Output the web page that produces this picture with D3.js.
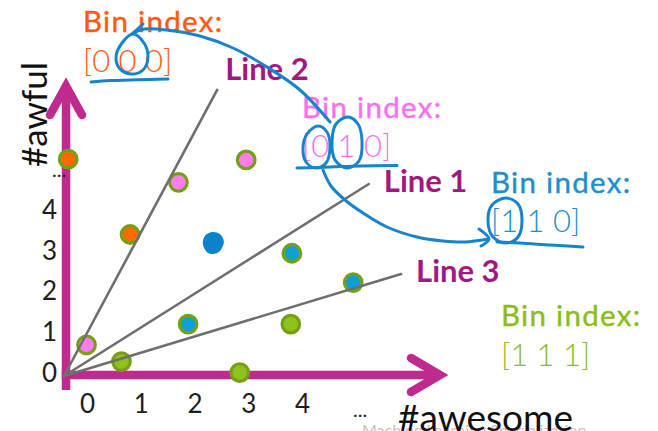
<!DOCTYPE html>
<html>
<head>
<meta charset="utf-8">
<script src="https://cdn.jsdelivr.net/npm/d3@7"></script>
<style>
  html, body { margin: 0; padding: 0; background: #fff; }
  svg { display: block; font-family: Lato, "Open Sans", sans-serif; }
</style>
</head>
<body>
<svg id="chart" width="658" height="431"></svg>
<script>
// Word counts of each review: #awesome (horizontal) and #awful (vertical)
const awesomeCounts = [0.06, 2.11, 3.37, 1.21, 4.22, 5.36, 0.40, 2.29, 4.20, 1.05, 3.25];
const awfulCounts   = [5.30, 4.73, 5.28, 3.45, 2.99, 2.27, 0.74, 1.25, 1.25, 0.33, 0.06];

// Query review (marked by hand)
const queryAwesome = [2.75];
const queryAwful   = [3.24];

// Three random lines through the origin, each given by its far end point
const lineNames      = ["Line 1", "Line 2", "Line 3"];
const lineEndAwesome = [5.65, 2.83, 6.25];
const lineEndAwful   = [4.69, 7.00, 2.48];

// Axis tick labels
const xTicks = [0, 1, 2, 3, 4];
const yTicks = [0, 1, 2, 3, 4];

// Bin index of each region (bit i = 1 when a point lies below line i)
const binKeys   = ["000", "010", "110", "111"];
const binLabels = ["[0 0 0]", "[0 1 0]", "[1 1 0]", "[1 1 1]"];

// ---------------------------------------------------------------
const svg = d3.select("#chart");

const x = d3.scaleLinear().domain([0, 7.03]).range([65, 443]);
const y = d3.scaleLinear().domain([0, 7.17]).range([375, 83]);

const binFill   = { "000": "#ff6a00", "010": "#ff7df0", "110": "#0f9fd6", "111": "#8ec21c" };
const binText   = { "000": "#ff5a10", "010": "#fb6ef0", "110": "#218fcb", "111": "#8bbd1f" };
const ringColor = "#76a013";
const axisColor = "#be2a8d";
const lineLabelColor = "#a3187f";
const inkColor  = "#1684cb";

function binOf(ax, aw) {
  return lineNames.map((_, i) =>
    (aw * lineEndAwesome[i] - ax * lineEndAwful[i] < 0 ? "1" : "0")).join("");
}

const points = awesomeCounts.map((ax, i) => ({ ax, aw: awfulCounts[i], bin: binOf(ax, awfulCounts[i]) }));

// Faint footer of the slide
svg.append("text")
  .attr("x", 362).attr("y", 436)
  .attr("font-size", 16).attr("fill", "#c4c4c4")
  .text("Machine Learning Specialization");

// Axis arrows
const ax0 = x(0) + 1, ay0 = y(0);
const axes = svg.append("g")
  .attr("stroke", axisColor).attr("stroke-width", 8.5).attr("fill", "none");
const vTip = y(7.17), hTip = x(7.03);
axes.append("line").attr("x1", ax0).attr("x2", ax0).attr("y1", y(-0.37)).attr("y2", vTip + 4);
axes.append("line").attr("x1", x(-0.06)).attr("x2", hTip - 4).attr("y1", ay0).attr("y2", ay0);
axes.append("path")
  .attr("stroke-linejoin", "miter").attr("stroke-linecap", "round")
  .attr("d", d3.line()([[ax0 - 16, vTip + 32], [ax0, vTip + 3], [ax0 + 16, vTip + 32]]));
axes.append("path")
  .attr("stroke-linejoin", "miter").attr("stroke-linecap", "round")
  .attr("d", d3.line()([[hTip - 32, ay0 - 17], [hTip - 3, ay0], [hTip - 32, ay0 + 17]]));

// Tick labels
const tickFont = g => {
  g.select(".domain").remove();
  g.selectAll("text").attr("font-size", 26).attr("fill", "#1e1e1e")
    .attr("font-family", "Lato, 'Open Sans', sans-serif");
};
svg.append("g")
  .attr("transform", `translate(22,${y(0)})`)
  .call(d3.axisBottom(x).tickValues(xTicks).tickSize(0).tickPadding(20).tickFormat(d3.format("d")))
  .call(tickFont);
svg.append("g")
  .attr("transform", `translate(${x(0)},-2)`)
  .call(d3.axisLeft(y).tickValues(yTicks).tickSize(0).tickPadding(8).tickFormat(d3.format("d")))
  .call(tickFont);

// Ellipses marking the axes continue
svg.append("text").attr("x", 353).attr("y", 417).attr("font-size", 20).attr("fill", "#222").text("...");
svg.append("text").attr("x", 52).attr("y", 177).attr("font-size", 20).attr("fill", "#222").text("...");

// Axis titles
svg.append("text")
  .attr("transform", "translate(47,167) rotate(-90)")
  .attr("font-size", 35).attr("fill", "#111").text("#awful");
svg.append("text")
  .attr("x", 398).attr("y", 431)
  .attr("font-size", 37).attr("fill", "#111").text("#awesome");

// Data points
svg.append("g").selectAll("circle")
  .data(points).join("circle")
  .attr("cx", d => x(d.ax)).attr("cy", d => y(d.aw))
  .attr("r", 8.8)
  .attr("fill", d => binFill[d.bin])
  .attr("stroke", ringColor).attr("stroke-width", 3.2);

// Lines through the origin
svg.append("g").selectAll("line")
  .data(lineNames).join("line")
  .attr("x1", x(0) - 1).attr("y1", y(0) + 1)
  .attr("x2", (d, i) => x(lineEndAwesome[i])).attr("y2", (d, i) => y(lineEndAwful[i]))
  .attr("stroke", "#6f6f6f").attr("stroke-width", 2.6).attr("stroke-linecap", "round");

// Line names
const lineLabelOffset = [[15, 8], [8, -10], [15, 8]];
svg.append("g").selectAll("text")
  .data(lineNames).join("text")
  .attr("x", (d, i) => x(lineEndAwesome[i]) + lineLabelOffset[i][0])
  .attr("y", (d, i) => y(lineEndAwful[i]) + lineLabelOffset[i][1])
  .attr("font-size", 31).attr("font-weight", 700).attr("fill", lineLabelColor)
  .text(d => d);

// Bin index captions
const binPos = [[83, 31.5, 72], [302, 118, 157], [491, 193, 232], [501, 326, 366]];
binKeys.forEach((k, i) => {
  const [tx, ty1, ty2] = binPos[i];
  svg.append("text").attr("x", tx).attr("y", ty1)
    .attr("font-size", 29.5).attr("letter-spacing", 1.3).attr("fill", binText[k])
    .attr("stroke", binText[k]).attr("stroke-width", 0.4)
    .text("Bin index:");
  svg.append("text").attr("x", tx).attr("y", ty2)
    .attr("font-size", 31).attr("font-weight", 300).attr("fill", binText[k])
    .text(binLabels[i]);
});

// Hand-drawn query point
const blob = [[-10, 1], [-8, -7], [-1, -11], [7, -9], [11, -1], [7, 8], [0, 11], [-6, 9]];
svg.append("path")
  .attr("transform", `translate(${x(queryAwesome[0])},${y(queryAwful[0])})`)
  .attr("d", d3.line().curve(d3.curveCardinalClosed)(blob))
  .attr("fill", "#0a83cc");

// Hand-drawn ink: circled bits, underlines and arrows
const ink = svg.append("g")
  .attr("fill", "none").attr("stroke", inkColor).attr("stroke-width", 3)
  .attr("stroke-linecap", "round").attr("stroke-linejoin", "round");
const smooth = d3.line().curve(d3.curveCatmullRom);
const loop = d3.line().curve(d3.curveCatmullRomClosed);
const strokes = [
  [[330, 122], [300, 90], [267, 67], [233, 48], [200, 36], [167, 30], [145, 29], [133, 33]],
  [[133, 33], [143, 24]],
  [[91, 82], [110, 80.5], [130, 80], [150, 79.5], [168, 79]],
  [[297, 168], [330, 167], [360, 166], [397, 165.5]],
  [[323, 170], [331, 186], [345, 200], [363, 213], [387, 227], [417, 237], [443, 241], [465, 242], [488, 239]],
  [[479, 229], [489, 239], [481, 246]],
  [[497, 242], [520, 243], [550, 245], [583, 247]]
];
strokes.forEach(s => ink.append("path").attr("d", smooth(s)));
const loops = [
  [[133, 34], [122, 43], [116, 57], [120, 69], [131, 74], [143, 70], [148, 57], [144, 43]],
  [[318, 126], [307, 134], [303, 148], [306, 162], [316, 168], [326, 163], [330, 147], [327, 132]],
  [[348, 117], [336, 124], [332, 142], [335, 160], [347, 168], [359, 161], [362, 141], [358, 124]],
  [[506, 198], [492, 205], [488, 221], [493, 237], [506, 243], [518, 237], [522, 220], [518, 204]]
];
loops.forEach(s => ink.append("path").attr("d", loop(s)));
</script>
</body>
</html>
